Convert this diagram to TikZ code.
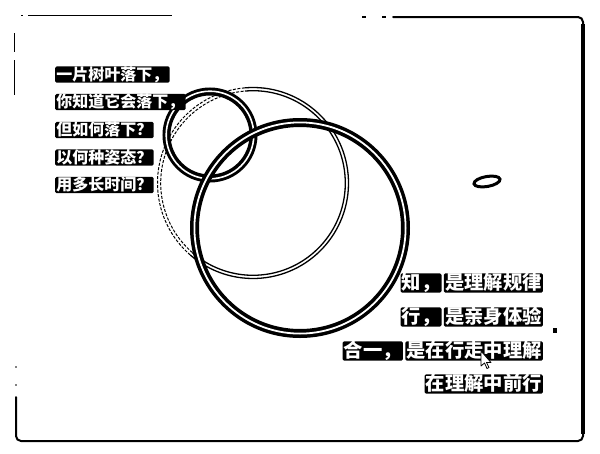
\documentclass[tikz,border=0pt]{standalone}
\usepackage{fontspec}
\newfontfamily\cjk{Noto Sans CJK SC}
\tikzset{
  frameline/.style={line width=2pt,line cap=round},
  lefttext/.style={fill=black,text=white,inner sep=1.2pt,rounded corners=1.5pt,anchor=west,
    font=\cjk\bfseries\fontsize{16}{16}\selectfont,text height=12.6pt,text depth=1.4pt},
  righttext/.style={fill=black,text=white,inner sep=1.2pt,rounded corners=1.5pt,anchor=east,
    font=\cjk\bfseries\fontsize{19.3}{19.3}\selectfont,text height=15.2pt,text depth=1.8pt},
  thinring/.style={line width=1.3pt},
  faintring/.style={line width=1pt,dash pattern=on 3pt off 1.5pt}
}
\begin{document}
\begin{tikzpicture}[x=1pt,y=-1pt]
\useasboundingbox (0,0) rectangle (600,453);
\fill[white] (0,0) rectangle (600,453);
% frame
\draw[line width=1pt] (28,15) -- (172,15);
\draw[line width=1pt] (21,15) -- (23,15);
\draw[line width=1.2pt] (362,17) -- (366,17) (382,17) -- (386,17);
\draw[frameline,rounded corners=5pt] (393,17) -- (583,17) -- (583,441) -- (16,441) -- (16,397);
\draw[line width=3.5pt] (583,24) -- (583,434);
\draw[line width=1pt] (14,33) -- (14,52) (14,60) -- (14,95);
\fill (16,367) circle[radius=0.8] (16,385) circle[radius=0.8];
% medium circle
\coordinate (mc) at (253,183);
\draw[thinring] (mc) ++(-95:95.5) arc[start angle=-95,end angle=131,radius=95.5];
\draw[thinring] (mc) ++(-95:92.3) arc[start angle=-95,end angle=131,radius=92.3];
\draw[faintring] (mc) ++(131:95.5) arc[start angle=131,end angle=265,radius=95.5];
\draw[faintring] (mc) ++(131:92.3) arc[start angle=131,end angle=265,radius=92.3];
% small circle
\coordinate (sc) at (210,135);
\draw[line width=8pt] (sc) circle[radius=43.5];
\draw[white,line width=1.6pt] (sc) circle[radius=43.8];
% big circle
\coordinate (bc) at (300,228);
\draw[line width=9pt] (bc) circle[radius=105.5];
\draw[white,line width=1.8pt] (bc) circle[radius=105.6];
% ellipse and small marks
\draw[line width=3pt] (487,181.5) ellipse[x radius=13.2, y radius=5, rotate=10];
\fill (553,328) rectangle (557,333);
% left texts
\node[lefttext] (l1) at (55,74.5) {一片树叶落下，};
\node[lefttext] (l2) at (55,102) {你知道它会落下，};
\node[lefttext] (l3) at (55,130) {但如何落下？};
\node[lefttext] (l4) at (55,157.5) {以何种姿态？};
\node[lefttext] (l5) at (55,185) {用多长时间？};
% right texts
\node[righttext] (r1b) at (543,283) {是理解规律};
\node[righttext,anchor=east] (r1a) at ([xshift=-2pt]r1b.west) {知，};
\node[righttext] (r2b) at (543,317) {是亲身体验};
\node[righttext,anchor=east] (r2a) at ([xshift=-2pt]r2b.west) {行，};
\node[righttext] (r3b) at (543,351) {是在行走中理解};
\node[righttext,anchor=east] (r3a) at ([xshift=-2pt]r3b.west) {合一，};
\node[righttext] (r4) at (543,384) {在理解中前行};
% cursor
\draw[fill=white,line width=0.8pt,line join=round] (481,351) -- (481,366) -- (484.5,363) -- (487,368.5) -- (489,367.5) -- (486.5,362.5) -- (491,362.5) -- cycle;
\end{tikzpicture}
\end{document}
